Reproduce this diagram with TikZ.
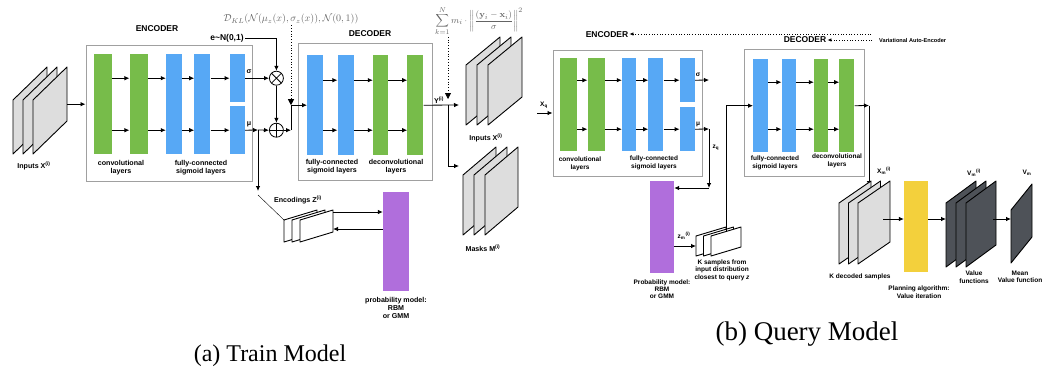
\documentclass[tikz,border=0pt]{standalone}
\usepackage[no-math]{fontspec}
\setmainfont{Liberation Serif}
\setsansfont{Liberation Sans}
\usepackage{amsmath}
\usetikzlibrary{arrows.meta,positioning}

\definecolor{convgreen}{RGB}{119,188,74}
\definecolor{fcblue}{RGB}{87,168,245}
\definecolor{probpurple}{RGB}{176,110,220}
\definecolor{planyellow}{RGB}{243,208,60}
\definecolor{darksheet}{RGB}{78,82,88}
\definecolor{lightsheet}{RGB}{221,221,221}
\definecolor{boxgray}{RGB}{160,160,160}
\definecolor{mathgray}{RGB}{100,100,100}

\tikzstyle{conv} = [rectangle, fill=convgreen, inner sep=0pt, minimum width=18pt, minimum height=100pt]
\tikzstyle{fc} = [rectangle, fill=fcblue, inner sep=0pt, minimum width=16pt, minimum height=100pt]
\tikzstyle{qlayer} = [minimum height=93pt]
\tikzstyle{netbox} = [rectangle, draw=boxgray, line width=1pt, inner sep=0pt]
\tikzstyle{probbar} = [rectangle, inner sep=0pt]
\tikzstyle{arrow} = [-{Latex[length=5pt,width=4.5pt]}, line width=0.8pt]
\tikzstyle{dotarrow} = [-{Latex[length=4pt,width=3.5pt]}, dotted, line width=0.7pt]
\tikzstyle{lossarrow} = [-{Triangle[length=6pt,width=6pt]}, dotted, line width=0.8pt]
\tikzstyle{sheet} = [draw=black, line width=0.9pt, line join=round]
\tikzstyle{lbl} = [font=\fontsize{7.1}{8.2}\selectfont\sffamily\bfseries, align=center, inner sep=1pt]
\tikzstyle{lblq} = [font=\fontsize{6.5}{7.4}\selectfont\sffamily\bfseries, align=center, inner sep=1pt]
\tikzstyle{vaelbl} = [font=\fontsize{5.6}{6.5}\selectfont\sffamily\bfseries, inner sep=1pt]
\tikzstyle{hdr} = [font=\fontsize{8.5}{10}\selectfont\sffamily\bfseries, inner sep=1pt]
\tikzstyle{subcap} = [font=\fontsize{24}{28}\selectfont, inner sep=0pt]
\tikzstyle{loss} = [font=\fontsize{10}{12}\selectfont, text=mathgray, inner sep=1pt]
\tikzstyle{mulnode} = [circle, draw, fill=white, line width=0.8pt, minimum size=14pt, inner sep=0pt,
  path picture={\draw[line width=0.8pt] (path picture bounding box.north west) -- (path picture bounding box.south east)
    (path picture bounding box.north east) -- (path picture bounding box.south west);}]
\tikzstyle{addnode} = [circle, draw, fill=white, line width=0.8pt, minimum size=14pt, inner sep=0pt,
  path picture={\draw[line width=0.8pt] (path picture bounding box.north) -- (path picture bounding box.south)
    (path picture bounding box.east) -- (path picture bounding box.west);}]

% stack of slanted sheets: name, x, y (bottom left of back sheet), width, height, rise, gap, count, fill
\newcommand{\sheetstack}[9]{%
  \foreach \k in {1,...,#8}
    \filldraw[sheet, fill=#9] ({#2+(\k-1)*#7},#3) -- ++(0,-#5) -- ++(#4,-#6) -- ++(0,#5) -- cycle;
  \coordinate (#1) at ({#2+(#8-1)*#7+#4/2},{#3-#5/2-#6/2});
  \coordinate (#1-e) at ({#2+(#8-1)*#7+#4},{#3-#5/2-#6});
  \coordinate (#1-w) at (#2,{#3-#5/2});
  \coordinate (#1-nw) at (#2,{#3-#5});
  \coordinate (#1-n) at ({#2+(#8-1)*#7+#4/2},{#3-#5-#6/2});
}

\begin{document}
\begin{tikzpicture}[x=1pt,y=-1pt]
\useasboundingbox (0,0) rectangle (1044,373);

% (a) train model
\sheetstack{inA}{13}{154}{34}{54}{33}{10}{3}{lightsheet}
\node(inAlbl)[lbl] at (34,166) {Inputs X\textsuperscript{(i)}};

\node(encA)[netbox, minimum width=166pt, minimum height=136pt] at (169,113) {};
\node(encAlbl)[hdr] at (157,29) {ENCODER};
\node(encG1)[conv, anchor=north west] at (94,54) {};
\node(encG2)[conv, right=17pt of encG1] {};
\node(encB1)[fc, right=18pt of encG2] {};
\node(encB2)[fc, right=12pt of encB1] {};
\node(encSig)[fc, minimum width=15pt, minimum height=48pt, right=19pt of encB2.north east, anchor=north west] {};
\node(encMu)[fc, minimum width=15pt, minimum height=48pt, right=19pt of encB2.south east, anchor=south west] {};
\node(encAconv)[lbl] at (121,168) {convolutional\\layers};
\node(encAfc)[lbl] at (201,168) {fully-connected\\sigmoid layers};

\foreach \a/\b in {encG1/encG2, encG2/encB1, encB1/encB2}{
  \draw[arrow] ([yshift=26pt]\a.east) -- ([yshift=26pt]\b.west);
  \draw[arrow] ([yshift=-26pt]\a.east) -- ([yshift=-26pt]\b.west);
}
\draw[arrow] ([yshift=26pt]encB2.east) -- (encSig.west);
\draw[arrow] ([yshift=-26pt]encB2.east) -- (encMu.west);
\draw[arrow] (inA-e |- encG1.west) -- (encA.west |- encG1.west);

\node(mul)[mulnode, right=24pt of encSig] {};
\node(add)[addnode, right=24pt of encMu] {};
\node(sigA)[lbl] at (249,72) {σ};
\node(muA)[lbl] at (249,124) {μ};
\node(noise)[hdr] at (227,38) {e\textasciitilde N(0,1)};
\draw[arrow] (noise.east) -| (mul.north);
\draw[arrow] (encSig.east) -- (mul.west);
\draw[arrow] (mul.south) -- (add.north);
\coordinate(zsplit) at (258,130);
\coordinate(zdown) at (258,191);
\draw[arrow] (encMu.east) -- (zsplit);
\draw[arrow] (zsplit) -- (add.west);
\draw[arrow] (zsplit) -- (zdown);

\sheetstack{encZ}{284}{242}{33}{22}{10}{8}{3}{white}
\node(encZlbl)[lbl] at (298,200) {Encodings Z\textsuperscript{(i)}};
\draw (zdown) ++(0,4) -- (encZ-nw);
\node(probA)[probbar, fill=probpurple, minimum width=26pt, minimum height=99pt] at (396,241.5) {};
\node(probAlbl)[lbl, below=5pt of probA] {probability model:\\RBM\\or GMM};
\draw[arrow] ([yshift=9pt]encZ-e) -- ([yshift=9pt]encZ-e -| probA.west);
\draw[arrow] ([yshift=-8pt]encZ-e -| probA.west) -- ([yshift=-8pt]encZ-e);

\node(decA)[netbox, minimum width=134pt, minimum height=137pt] at (365,111.5) {};
\node(decAlbl)[hdr] at (370,34) {DECODER};
\node(decB1)[fc, anchor=north west] at (307,55) {};
\node(decB2)[fc, right=14pt of decB1] {};
\node(decG1)[conv, minimum width=15pt, right=19pt of decB2] {};
\node(decG2)[conv, minimum width=16pt, right=19pt of decG1] {};
\node(decAfc)[lbl] at (332,167) {fully-connected\\sigmoid layers};
\node(decAconv)[lbl] at (396,167) {deconvolutional\\layers};
\foreach \a/\b in {decB1/decB2, decB2/decG1, decG1/decG2}{
  \draw[arrow] ([yshift=25pt]\a.east) -- ([yshift=25pt]\b.west);
  \draw[arrow] ([yshift=-25pt]\a.east) -- ([yshift=-25pt]\b.west);
}

\node(kl)[loss] at (291,19) {$\mathcal{D}_{KL}(\mathcal{N}(\mu_z(x),\sigma_z(x)),\mathcal{N}(0,1))$};
\coordinate(dsplit) at (kl.south |- add.east);
\draw[arrow] (add.east) -- (dsplit);
\draw[arrow] (dsplit) |- (decB1.west);
\draw[lossarrow] (kl.south) -- (kl.south |- decB1.west);

\coordinate(ysplit) at (448,105);
\coordinate(toX) at (459,105);
\coordinate(toM) at (459,166);
\draw[arrow] (decG2.east) -- (toX);
\draw[arrow] (ysplit) |- (toM);
\node(ylbl)[lbl] at (439,100) {Y\textsuperscript{(i)}};
\node(sum)[loss, font=\fontsize{9.5}{11}\selectfont] at (479,21) {$\displaystyle\sum_{k=1}^{N} m_i\cdot\left\|\frac{(\mathbf{y}_i-\mathbf{x}_i)}{\sigma}\right\|^2$};
\draw[lossarrow] (ysplit |- sum.south) -- ([yshift=6pt]ysplit);

\sheetstack{outX}{466}{125}{34}{60}{28}{11}{3}{lightsheet}
\node(outXlbl)[lbl] at (486,138) {Inputs X\textsuperscript{(i)}};
\sheetstack{masks}{463}{235}{33}{60}{28}{11}{3}{lightsheet}
\node(maskslbl)[lbl] at (483,248) {Masks M\textsuperscript{(i)}};

\node(capA)[subcap] at (270,356) {(a) Train Model};

% (b) query model
\node(encQlbl)[hdr] at (607,35) {ENCODER};
\node(decQlbl)[hdr] at (805,40) {DECODER};
\node(vae)[vaelbl, anchor=west] at (878,40) {Variational Auto-Encoder};
\coordinate(vaetop) at (871,34);
\draw[dotarrow] (vaetop) -- (encQlbl.east |- vaetop);
\draw[dotarrow] ([xshift=-6pt]vae.west) -- (decQlbl.east);

\node(encQ)[netbox, minimum width=149pt, minimum height=126pt] at (627.5,113) {};
\node(qG1)[conv, qlayer, minimum width=17pt, anchor=north west] at (560,58) {};
\node(qG2)[conv, qlayer, minimum width=17pt, right=10pt of qG1] {};
\node(qB1)[fc, qlayer, minimum width=14pt, right=17pt of qG2] {};
\node(qB2)[fc, qlayer, minimum width=15pt, right=12pt of qB1] {};
\node(qSig)[fc, minimum width=15pt, minimum height=44pt, right=16pt of qB2.north east, anchor=north west] {};
\node(qMu)[fc, minimum width=15pt, minimum height=44pt, right=16pt of qB2.south east, anchor=south west] {};
\node(qconv)[lblq] at (580,164) {convolutional\\layers};
\node(qfc)[lblq] at (654,163) {fully-connected\\sigmoid layers};
\foreach \a/\b in {qG1/qG2, qG2/qB1, qB1/qB2}{
  \draw[arrow] ([yshift=24.5pt]\a.east) -- ([yshift=24.5pt]\b.west);
  \draw[arrow] ([yshift=-24.5pt]\a.east) -- ([yshift=-24.5pt]\b.west);
}
\draw[arrow] ([yshift=24.5pt]qB2.east) -- (qSig.west);
\draw[arrow] ([yshift=-24.5pt]qB2.east) -- (qMu.west);

\coordinate(xq) at (537,113);
\draw[arrow] (xq) -- (encQ.west);
\node(xqlbl)[lblq] at (544,105) {X\textsubscript{q}};

\coordinate(sigQend) at (709,80);
\coordinate(zqtop) at (709,129);
\coordinate(zqbot) at (709,188);
\draw[arrow] (qSig.east) -- (sigQend);
\draw[arrow] (qMu.east) -- (zqtop);
\node(sigQ)[lblq] at (698,75) {σ};
\node(muQ)[lblq] at (698,124) {μ};
\node(zqlbl)[lblq] at (716,148) {z\textsubscript{q}};

\node(probQ)[probbar, fill=probpurple, minimum width=24pt, minimum height=92pt] at (662,227) {};
\node(probQlbl)[lblq, below=5pt of probQ] {Probability model:\\RBM\\or GMM};
\draw[arrow] (zqtop) -- (zqbot);
\draw[arrow] (zqbot) -- (zqbot -| probQ.east);

\sheetstack{kSamp}{696}{256}{30}{20}{9}{7.5}{3}{white}
\node(kSamplbl)[lblq] at (722,270) {K samples from\\input distribution\\closest to query \textit{z}};
\node(zmlbl)[lblq] at (684,236) {z\textsubscript{m}\textsuperscript{(i)}};
\draw[arrow] (kSamp-w -| probQ.east) -- (kSamp-w);

\node(decQ)[netbox, minimum width=120pt, minimum height=127pt] at (804,112.5) {};
\node(qdB1)[fc, qlayer, minimum width=15pt, anchor=north west] at (753,59) {};
\node(qdB2)[fc, qlayer, minimum width=14pt, right=13pt of qdB1] {};
\node(qdG1)[conv, qlayer, minimum width=14pt, right=18pt of qdB2] {};
\node(qdG2)[conv, qlayer, minimum width=15pt, right=11pt of qdG1] {};
\node(qdfc)[lblq] at (775,163) {fully-connected\\sigmoid layers};
\node(qdconv)[lblq] at (837,161) {deconvolutional\\layers};
\foreach \a/\b in {qdB1/qdB2, qdB2/qdG1, qdG1/qdG2}{
  \draw[arrow] ([yshift=23.5pt]\a.east) -- ([yshift=23.5pt]\b.west);
  \draw[arrow] ([yshift=-23.5pt]\a.east) -- ([yshift=-23.5pt]\b.west);
}
\draw[arrow] (kSamp-n) |- (qdB1.west);

\coordinate(xmsplit) at (869,105.5);
\coordinate(xmend) at (869,186);
\draw[arrow] (qdG2.east) -- (xmsplit);
\draw[arrow] (xmsplit) -- (xmend);
\node(xmlbl)[lblq] at (884,171) {X\textsubscript{m}\textsuperscript{(i)}};

\sheetstack{kDec}{839}{264}{32}{61}{22}{9.5}{3}{lightsheet}
\node(kDeclbl)[lblq] at (860,277) {K decoded samples};

\node(plan)[probbar, fill=planyellow, minimum width=24pt, minimum height=91pt] at (916,226.5) {};
\node(planlbl)[lblq] at (919,292) {Planning algorithm:\\Value iteration};

\sheetstack{vals}{946}{267}{30}{64}{22}{10}{3}{darksheet}
\node(valslbl)[lblq] at (974,173) {V\textsubscript{m}\textsuperscript{(i)}};
\node(valsname)[lblq] at (974,277) {Value\\functions};
\sheetstack{vmean}{1011}{263}{21}{53}{26}{0}{1}{darksheet}
\node(vmeanlbl)[lblq] at (1027,173) {V\textsubscript{m}};
\node(vmeanname)[lblq] at (1020,277) {Mean\\Value function};

\coordinate(qrow) at (0,219);
\draw[arrow] ([xshift=9pt]kDec |- qrow) -- (plan.west |- qrow);
\draw[arrow] (plan.east |- qrow) -- (vals-w |- qrow);
\draw[arrow] ([xshift=12pt]vals |- qrow) -- (vmean-w |- qrow);

\node(capB)[subcap, font=\fontsize{27}{31}\selectfont] at (807,334) {(b) Query Model};

\end{tikzpicture}
\end{document}
